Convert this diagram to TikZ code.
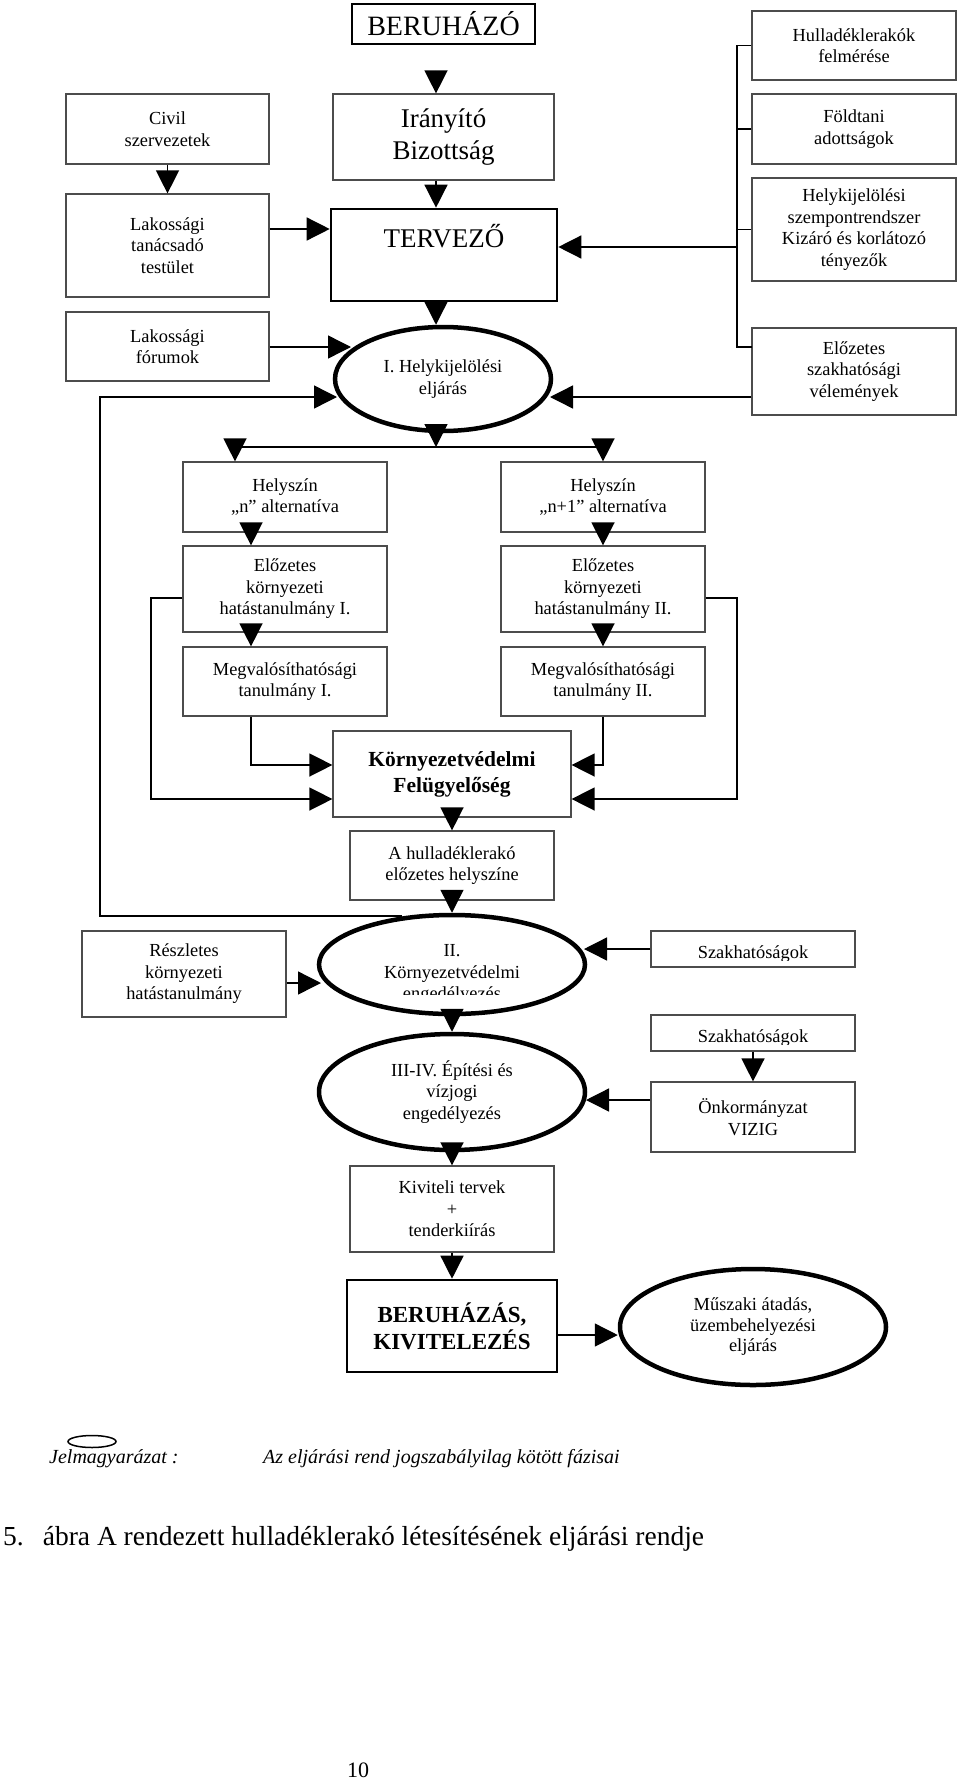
\documentclass[tikz,border=0pt]{standalone}
\usepackage{fontspec}
\setmainfont{Liberation Serif}
\usetikzlibrary{arrows.meta,shapes.geometric}
\newcommand{\myfnt}{\fontsize{18.4pt}{21.5pt}\selectfont}
\newcommand{\bigfnt}{\fontsize{27pt}{32pt}\selectfont}
\newcommand{\legfnt}{\fontsize{20pt}{23pt}\selectfont\itshape}
\begin{document}
\begin{tikzpicture}[x=1pt,y=-1pt,
  box/.style={draw=black!70, line width=1.2pt, rectangle, inner sep=0pt, align=center, font=\myfnt},
  thickbox/.style={box, draw=black, line width=2.6pt},
  oval/.style={draw=black, ellipse, line width=4.5pt, inner sep=0pt, align=center, font=\myfnt},
  ln/.style={line width=1.4pt, draw=black},
  arr/.style={ln, -{Triangle[length=23pt,width=23pt]}},
  txt/.style={inner sep=0pt, font=\myfnt}]
\fill[white] (0,0) rectangle (960,1782);
\useasboundingbox (0,0) rectangle (960,1782);

% ---------- top block ----------
\node[box, draw=black, line width=1.8pt, minimum width=183pt, minimum height=40pt, font=\fontsize{28pt}{32pt}\selectfont] (beruhazo) at (443.5,24) {BERUHÁZÓ};
\node[box, minimum width=203pt, minimum height=70pt] (civil) at (167.5,129) {Civil\\szervezetek};
\node[box, minimum width=221pt, minimum height=86pt, font=\bigfnt] (irany) at (443.5,137) {Irányító\\Bizottság};
\node[box, minimum width=203pt, minimum height=103pt] (lakt) at (167.5,245.5) {Lakossági\\tanácsadó\\testület};
\node[thickbox, minimum width=226pt, minimum height=92pt, font=\bigfnt, text depth=38pt] (tervezo) at (444,255) {TERVEZŐ};
\node[box, minimum width=203pt, minimum height=69pt] (lakf) at (167.5,346.5) {Lakossági\\fórumok};
\node[oval, minimum width=216pt, minimum height=104pt] (ell1) at (443,379) {I. Helykijelölési\\eljárás};

\node[box, minimum width=204pt, minimum height=69pt] (hulla) at (854,45.5) {Hulladéklerakók\\felmérése};
\node[box, minimum width=204pt, minimum height=70pt] (foldt) at (854,129) {Földtani\\adottságok};
\node[box, minimum width=204pt, minimum height=103pt] (helyk) at (854,229.5) {Helykijelölési\\szempontrendszer\\Kizáró és korlátozó\\tényezők};
\node[box, minimum width=204pt, minimum height=87pt] (elosz) at (854,371.5) {Előzetes\\szakhatósági\\vélemények};

% connectors top
\coordinate (ax) at (436,0);
\coordinate (a0) at (436,71);
\draw[arr] (a0) -- (irany.north -| a0);
\draw[arr] (civil.south) -- (lakt.north);
\draw[arr] (irany.south -| ax) -- (tervezo.north -| ax);
\draw[arr] (tervezo.south -| ax) -- (ell1.north -| ax);
\coordinate (ltr) at (0,229);
\draw[arr] (lakt.east |- ltr) -- (tervezo.west |- ltr);
\coordinate (e1l) at (351,347);
\draw[arr] (lakf.east |- e1l) -- (e1l);

\coordinate (bt) at (737,45.5);
\coordinate (bb) at (737,347);
\coordinate (eloszb) at (752,347);
\draw[ln] (hulla.west) -- (bt) -- (bb) -- (eloszb);
\draw[ln] (foldt.west) -- (foldt.west -| bb);
\draw[ln] (helyk.west) -- (helyk.west -| bb);
\coordinate (bm) at (737,247);
\draw[arr] (bm) -- (bm -| tervezo.east);
\coordinate (e1r) at (550,397);
\draw[arr] (e1r -| elosz.west) -- (e1r);

% ---------- alternatives ----------
\node[box, minimum width=204pt, minimum height=70pt] (hn) at (285,497) {Helyszín\\„n” alternatíva};
\node[box, minimum width=204pt, minimum height=70pt] (hn1) at (603,497) {Helyszín\\„n+1” alternatíva};
\node[box, minimum width=204pt, minimum height=86pt] (ek1) at (285,589) {Előzetes\\környezeti\\hatástanulmány I.};
\node[box, minimum width=204pt, minimum height=86pt] (ek2) at (603,589) {Előzetes\\környezeti\\hatástanulmány II.};
\node[box, minimum width=204pt, minimum height=69pt] (mt1) at (285,681.5) {Megvalósíthatósági\\tanulmány I.};
\node[box, minimum width=204pt, minimum height=69pt] (mt2) at (603,681.5) {Megvalósíthatósági\\tanulmány II.};

\coordinate (hb) at (436,447);
\draw[arr] (ell1.south -| hb) -- (hb);
\coordinate (hl) at (235,447);
\coordinate (hr) at (603,447);
\draw[ln] (hl) -- (hr);
\draw[arr] (hl) -- (hl |- hn.north);
\draw[arr] (hr) -- (hn1.north);
\coordinate (cx) at (251,0);
\draw[arr] (hn.south -| cx) -- (ek1.north -| cx);
\draw[arr] (ek1.south -| cx) -- (mt1.north -| cx);
\draw[arr] (hn1.south) -- (ek2.north);
\draw[arr] (ek2.south) -- (mt2.north);

% ---------- Környezetvédelmi Felügyelőség ----------
\node[box, minimum width=238pt, minimum height=86pt, font=\fontsize{21.5pt}{26pt}\selectfont\bfseries] (kf) at (452,774) {Környezetvédelmi\\Felügyelőség};
\coordinate (l1) at (151,598);
\coordinate (l2) at (151,799);
\draw[arr] (ek1.west |- l1) -- (l1) -- (l2) -- (l2 -| kf.west);
\coordinate (m1) at (251,765);
\draw[arr] (mt1.south -| m1) -- (m1) -- (m1 -| kf.west);
\coordinate (m2) at (603,765);
\draw[arr] (mt2.south) -- (m2) -- (m2 -| kf.east);
\coordinate (r1) at (737,598);
\coordinate (r2) at (737,799);
\draw[arr] (ek2.east |- r1) -- (r1) -- (r2) -- (r2 -| kf.east);

\node[box, minimum width=204pt, minimum height=69pt] (hely) at (452,865.5) {A hulladéklerakó\\előzetes helyszíne};
\draw[arr] (kf.south) -- (hely.north);

% ---------- permits ----------
\node[oval, minimum width=266pt, minimum height=99pt] (ell2) at (452,964.5) {};
\begin{scope}
\clip (310,930) rectangle (600,994.5);
\node[txt, align=center] (ell2t) at (452,974.4) {II.\\Környezetvédelmi\\engedélyezés};
\end{scope}
\draw[arr] (hely.south) -- (ell2.north);

\coordinate (e2tl) at (402,916);
\coordinate (lp) at (100,0);
\coordinate (e1ll) at (337,397);
\draw[arr] (e2tl) -- (e2tl -| lp) -- (e1ll -| lp) -- (e1ll);

\node[box, minimum width=204pt, minimum height=86pt] (resz) at (184,974) {Részletes\\környezeti\\hatástanulmány};
\coordinate (e2l) at (321,983);
\draw[arr] (resz.east |- e2l) -- (e2l);

\node[box, minimum width=204pt, minimum height=36pt] (szak1) at (753,949) {};
\begin{scope}
\clip (651,931) rectangle (855,960.5);
\node[txt, anchor=base] (szak1t) at (753,958) {Szakhatóságok};
\end{scope}
\coordinate (e2r) at (584,949);
\draw[arr] (szak1.west) -- (e2r);

\node[oval, minimum width=266pt, minimum height=116pt] (ell3) at (452,1092) {III-IV. Építési és\\vízjogi\\engedélyezés};
\draw[arr] (ell2.south) -- (ell3.north);

\node[box, minimum width=204pt, minimum height=36pt] (szak2) at (753,1033) {};
\begin{scope}
\clip (651,1015) rectangle (855,1044.5);
\node[txt, anchor=base] (szak2t) at (753,1042) {Szakhatóságok};
\end{scope}
\node[box, minimum width=204pt, minimum height=70pt] (onk) at (753,1117) {Önkormányzat\\VIZIG};
\draw[arr] (szak2.south) -- (onk.north);
\coordinate (e3r) at (586,1100);
\draw[arr] (onk.west |- e3r) -- (e3r);

% ---------- execution ----------
\node[box, minimum width=204pt, minimum height=86pt] (kiv) at (452,1209) {Kiviteli tervek\\+\\tenderkiírás};
\draw[arr] (ell3.south) -- (kiv.north);
\node[thickbox, minimum width=210pt, minimum height=92pt, font=\fontsize{23pt}{27pt}\selectfont\bfseries] (beruhazas) at (452,1326) {BERUHÁZÁS,\\KIVITELEZÉS};
\draw[arr] (kiv.south) -- (beruhazas.north);
\node[oval, minimum width=266pt, minimum height=116pt, font=\fontsize{18.4pt}{20.5pt}\selectfont] (musz) at (753,1327) {Műszaki átadás,\\üzembehelyezési\\eljárás};
\coordinate (bz) at (0,1335);
\draw[arr] (beruhazas.east |- bz) -- (musz.west |- bz);

% ---------- legend and caption ----------
\node[draw=black, ellipse, line width=1.5pt, minimum width=48pt, minimum height=12pt, inner sep=0pt] (leg) at (92,1441.5) {};
\node[anchor=base west, inner sep=0pt, font=\legfnt] (jel) at (49,1463) {Jelmagyarázat :};
\node[anchor=base west, inner sep=0pt, font=\legfnt] (azel) at (263,1463) {Az eljárási rend jogszabályilag kötött fázisai};
\node[anchor=base west, inner sep=0pt, font=\fontsize{27.5pt}{30pt}\selectfont] (cap) at (3,1545) {5.\hspace{19pt}ábra A rendezett hulladéklerakó létesítésének eljárási rendje};
\node[anchor=base, inner sep=0pt, font=\fontsize{22pt}{24pt}\selectfont] (pg) at (358,1777) {10};
\end{tikzpicture}
\end{document}
